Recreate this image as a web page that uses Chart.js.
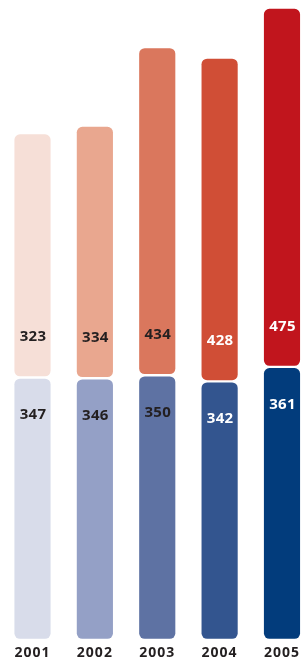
<!DOCTYPE html>
<html>
<head>
<meta charset="utf-8">
<script src="https://cdn.jsdelivr.net/npm/chart.js@4/dist/chart.umd.min.js"></script>
<style>
  html, body { margin: 0; padding: 0; background: #ffffff; }
  #wrap { width: 303px; height: 663px; position: relative; }
</style>
</head>
<body>
<div id="wrap"><canvas id="c" width="303" height="663"></canvas></div>
<script>
const years = ['2001', '2002', '2003', '2004', '2005'];
const lowerValues = [347, 346, 350, 342, 361];
const upperValues = [323, 334, 434, 428, 475];
const lowerColors = ['#d8dcea', '#94a0c6', '#5e72a3', '#33558f', '#023c7c'];
const upperColors = ['#f6dfd7', '#e9a78f', '#da775d', '#d04e36', '#c1151d'];
const labelColors = ['#231f20', '#231f20', '#231f20', '#ffffff', '#ffffff'];

const radius = { topLeft: 7, topRight: 7, bottomLeft: 7, bottomRight: 7 };

const valueLabels = {
  id: 'valueLabels',
  beforeDraw(chart) {
    chart.ctx.letterSpacing = '1px';
  },
  afterDatasetsDraw(chart) {
    const ctx = chart.ctx;
    ctx.save();
    ctx.letterSpacing = '0.3px';
    ctx.font = 'bold 15px "Open Sans"';
    ctx.textAlign = 'center';
    ctx.textBaseline = 'middle';
    chart.data.datasets.forEach((ds, di) => {
      const meta = chart.getDatasetMeta(di);
      meta.data.forEach((el, i) => {
        ctx.fillStyle = labelColors[i];
        const y = di === 0 ? el.y + 37.5 : el.base - 40.5;
        ctx.fillText(String(ds.data[i]), el.x + 0.5, y);
      });
    });
    ctx.restore();
  }
};

new Chart(document.getElementById('c'), {
  type: 'bar',
  data: {
    labels: years,
    datasets: [
      {
        data: lowerValues,
        backgroundColor: lowerColors,
        borderColor: '#ffffff',
        borderWidth: 1.5,
        borderSkipped: false,
        borderRadius: radius,
        barThickness: 38.5,
        clip: false
      },
      {
        data: upperValues,
        backgroundColor: upperColors,
        borderColor: '#ffffff',
        borderWidth: 1.5,
        borderSkipped: false,
        borderRadius: radius,
        barThickness: 38.5,
        clip: false
      }
    ]
  },
  options: {
    responsive: false,
    animation: false,
    devicePixelRatio: 1,
    layout: { padding: { top: 4.6, bottom: -3.8, left: 32.5, right: 19.7 } },
    plugins: { legend: { display: false }, tooltip: { enabled: false } },
    scales: {
      x: {
        stacked: true,
        offset: false,
        grid: { display: false, drawTicks: false },
        border: { display: false },
        ticks: {
          color: '#231f20',
          font: { family: 'Open Sans', weight: 'bold', size: 14 },
          padding: 5,
          maxRotation: 0,
          autoSkip: false
        }
      },
      y: {
        stacked: true,
        display: false,
        min: 0,
        max: 840
      }
    }
  },
  plugins: [valueLabels]
});
</script>
</body>
</html>
